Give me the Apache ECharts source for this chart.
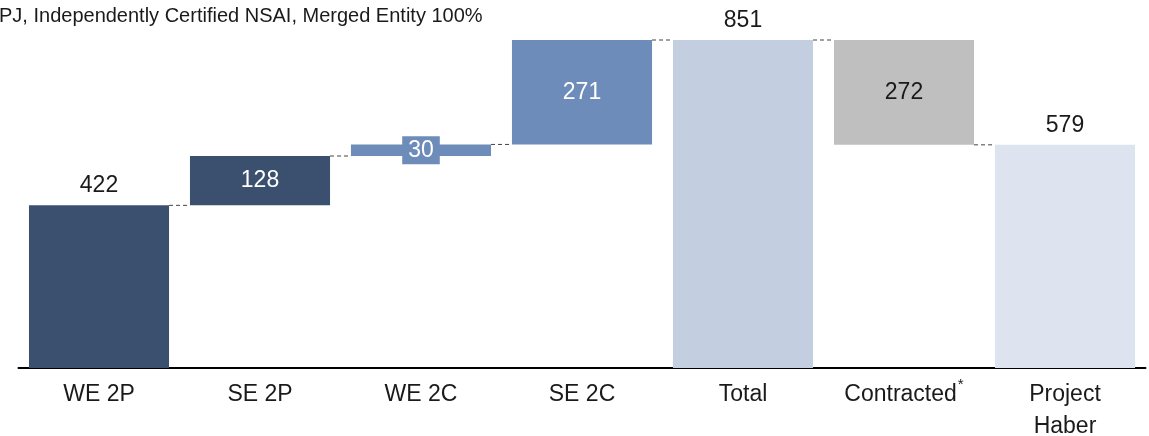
<!DOCTYPE html>
<html>
<head>
<meta charset="utf-8">
<script src="https://cdn.jsdelivr.net/npm/echarts@6/dist/echarts.min.js"></script>
<style>
  html, body { margin: 0; padding: 0; background: #fff; }
  #chart { width: 1149px; height: 436px; }
</style>
</head>
<body>
<div id="chart"></div>
<script>
// waterfall data
const categories = ['WE 2P', 'SE 2P', 'WE 2C', 'SE 2C', 'Total', 'Contracted', 'Project\nHaber'];
const amounts = [422, 128, 30, 271, 851, 272, 579];
const bases = [0, 422, 550, 580, 0, 579, 0];
const connectorLevels = [422, 550, 580, 851, 851, 579];

const barColors = ['#3b506e', '#3b506e', '#6d8cba', '#6d8cba', '#c3cfe0', '#bfbfbf', '#dde4ef'];
const labelPos = ['top', 'inside', 'inside', 'inside', 'top', 'inside', 'top'];
const labelColors = ['#1a1a1a', '#ffffff', '#ffffff', '#ffffff', '#1a1a1a', '#1a1a1a', '#1a1a1a'];
const barGapRatio = 0.87;
const font = '"Liberation Sans", Arial, sans-serif';

const initChart = function () {
    const chart = echarts.init(document.getElementById('chart'));

    const valueData = amounts.map(function (v, i) {
        const label = {
            position: labelPos[i],
            color: labelColors[i]
        };
        // the small WE 2C step gets a boxed label
        if (i === 2) {
            label.backgroundColor = barColors[i];
            label.padding = [3, 6, 2, 6];
        }
        return {
            value: v,
            itemStyle: {color: barColors[i]},
            label: label
        };
    });

    const option = {
        animation: false,
        title: {
            text: 'PJ, Independently Certified NSAI, Merged Entity 100%',
            left: -6,
            top: 1,
            textStyle: {fontFamily: font, fontSize: 20, fontWeight: 'normal', color: '#1a1a1a'}
        },
        grid: {
            left: 18.5,
            right: 3.5,
            top: 40,
            bottom: 68,
            outerBoundsMode: 'none',
            containLabel: false
        },
        xAxis: {
            type: 'category',
            data: categories,
            axisTick: {show: false},
            axisLine: {lineStyle: {color: '#000', width: 2}},
            axisLabel: {
                interval: 0,
                margin: 11,
                fontFamily: font,
                fontSize: 23,
                lineHeight: 32,
                color: '#1a1a1a',
                formatter: function (v) {
                    if (v === 'Contracted') {
                        return '{a|Contracted}{s|*}';
                    }
                    return v;
                },
                rich: {
                    a: {fontFamily: font, fontSize: 23, lineHeight: 32, color: '#1a1a1a'},
                    s: {fontFamily: font, fontSize: 15, lineHeight: 32, color: '#1a1a1a', padding: [0, 0, 20, 1]}
                }
            }
        },
        yAxis: {
            type: 'value',
            min: 0,
            max: 851,
            show: false,
            splitLine: {show: false}
        },
        series: [
            {
                // invisible base
                type: 'bar',
                stack: 'wf',
                barCategoryGap: '13%',
                itemStyle: {color: 'transparent'},
                data: bases,
                silent: true
            },
            {
                type: 'bar',
                stack: 'wf',
                barCategoryGap: '13%',
                label: {
                    show: true,
                    fontFamily: font,
                    fontSize: 23,
                    distance: 8
                },
                data: valueData
            },
            {
                // dashed connectors between bars
                type: 'custom',
                data: connectorLevels.map(function (v, i) { return [i, v]; }),
                renderItem: function (params, api) {
                    const i = api.value(0);
                    const p0 = api.coord([i, api.value(1)]);
                    const p1 = api.coord([i + 1, api.value(1)]);
                    const half = api.size([1, 0])[0] * barGapRatio / 2;
                    return {
                        type: 'line',
                        shape: {x1: p0[0] + half, y1: p0[1], x2: p1[0] - half, y2: p1[1]},
                        style: {stroke: '#444', lineWidth: 1, lineDash: [4, 3]}
                    };
                },
                z: 1
            }
        ]
    };

    chart.setOption(option);
};

initChart();
</script>
</body>
</html>
